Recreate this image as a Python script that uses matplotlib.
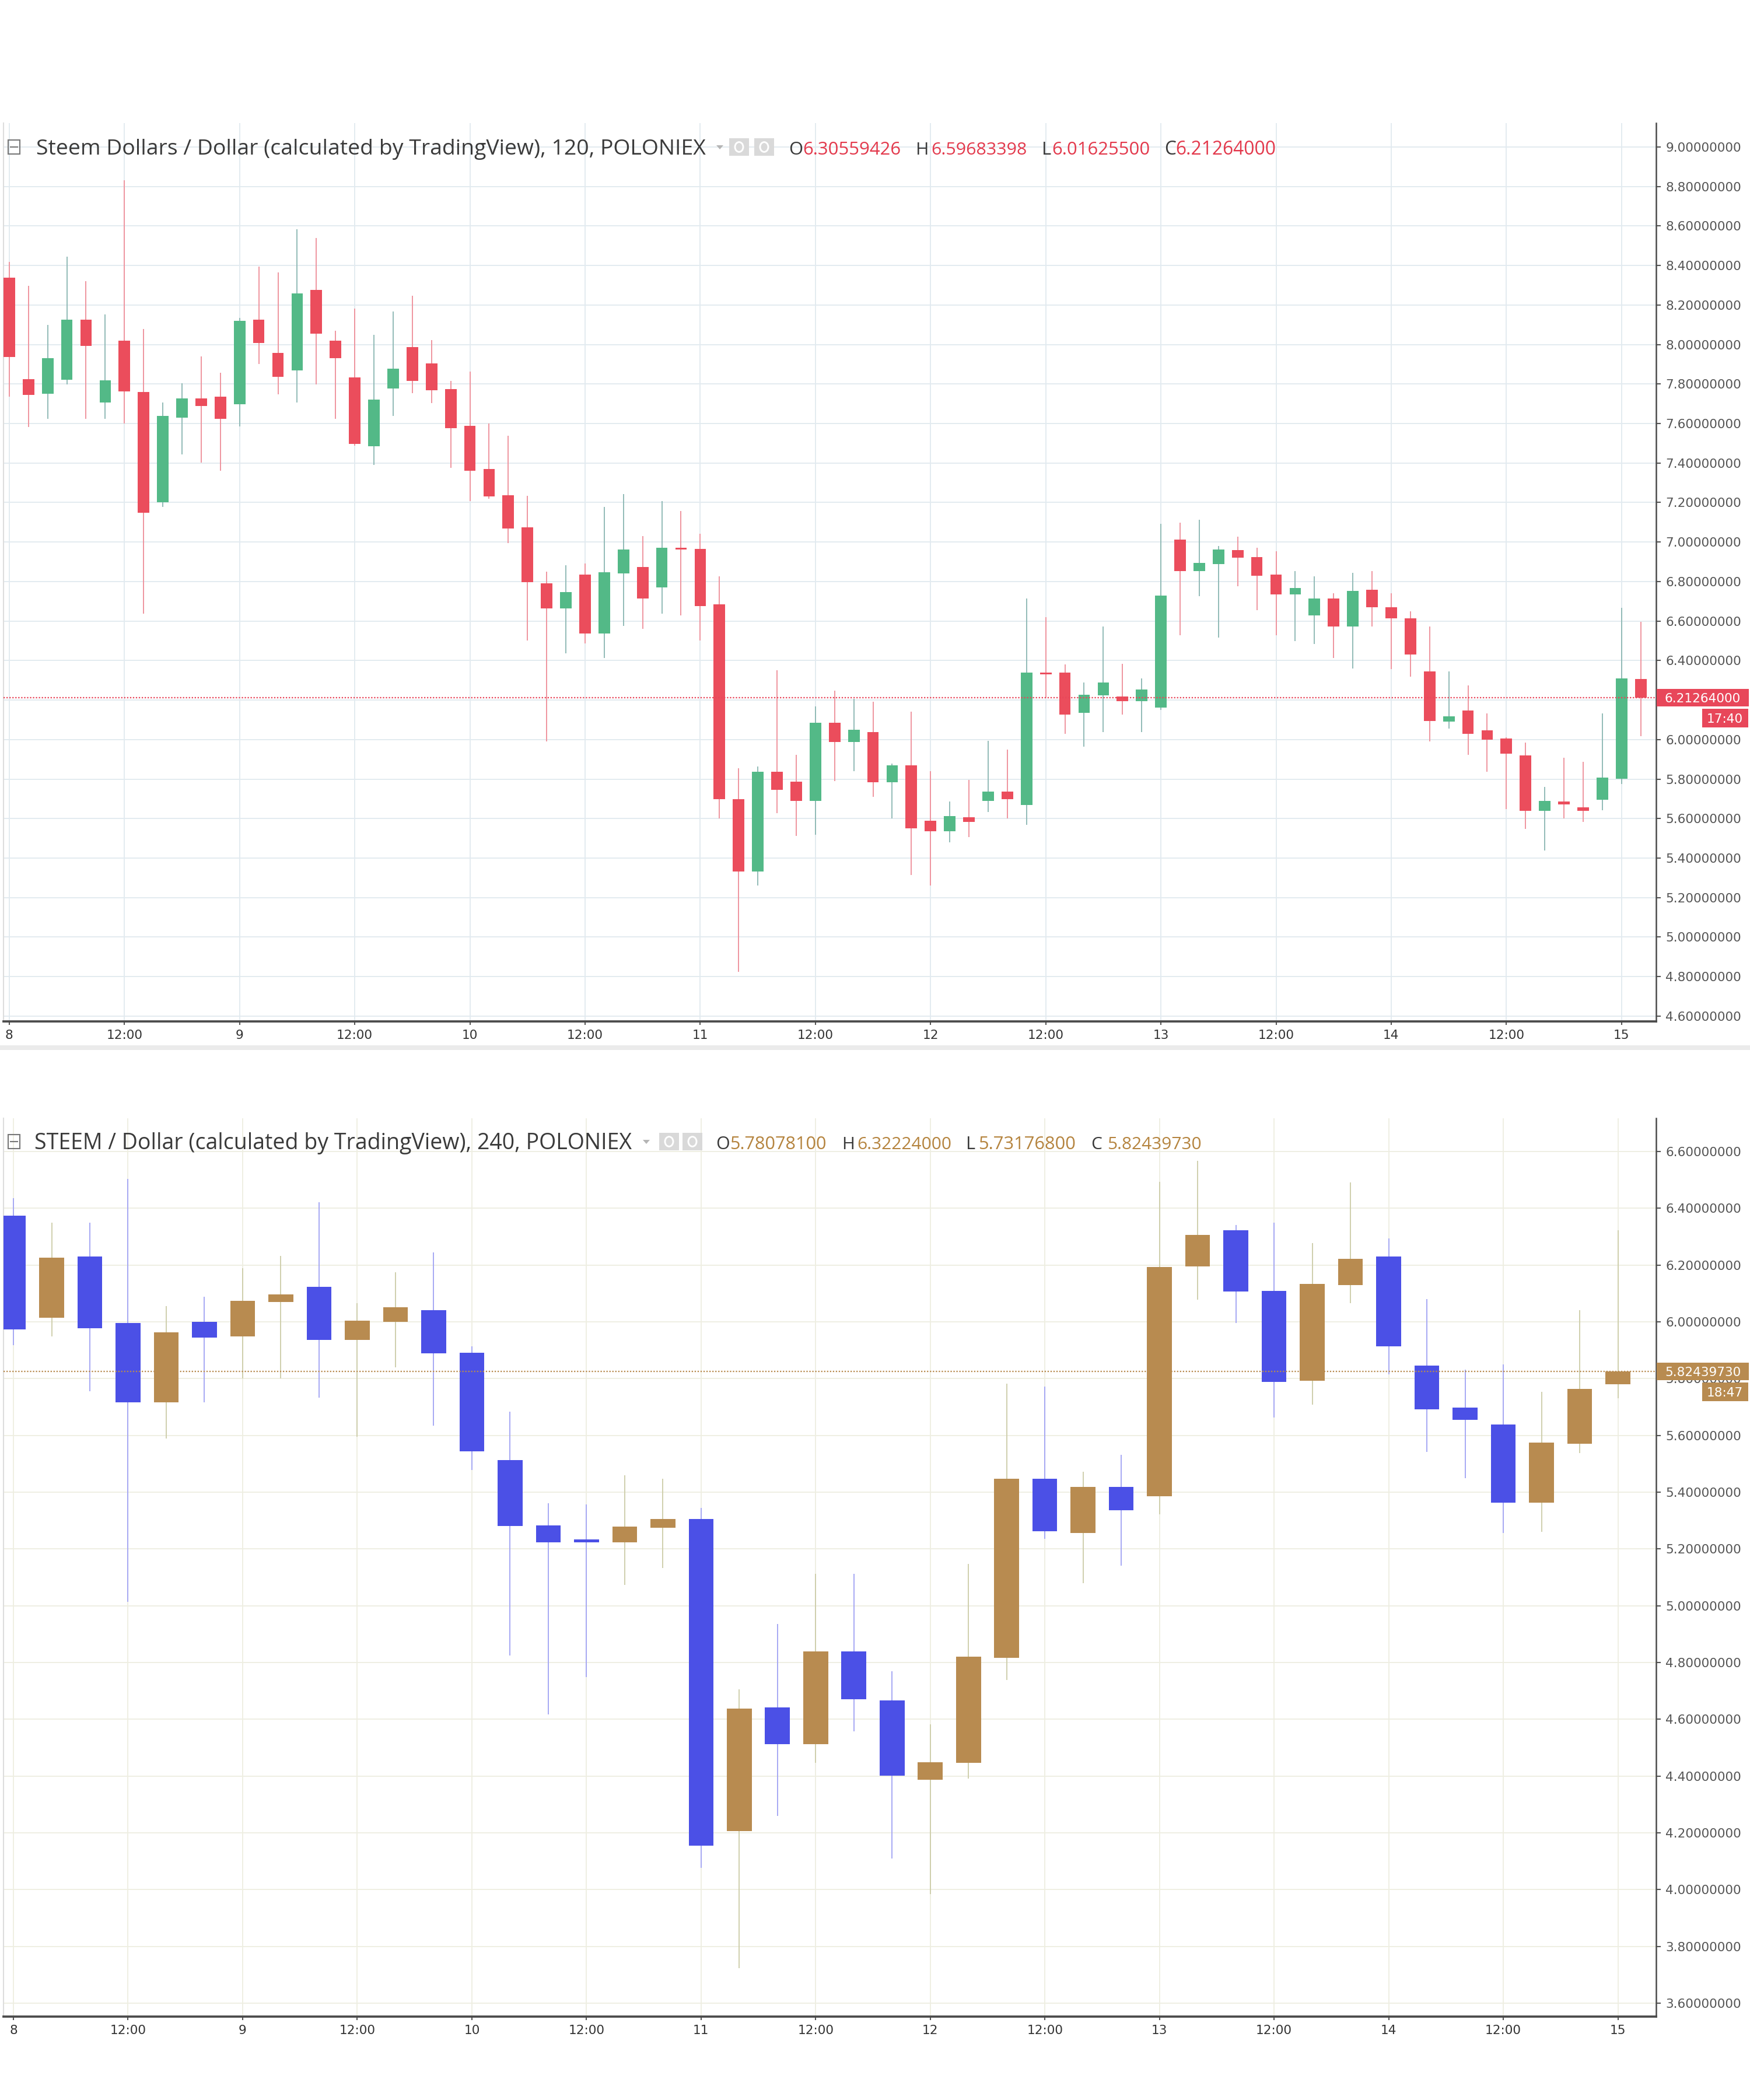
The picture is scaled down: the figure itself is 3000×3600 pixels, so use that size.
import matplotlib
matplotlib.use('Agg')
import matplotlib.pyplot as plt
import matplotlib.transforms as mtransforms
from matplotlib.patches import Rectangle, Polygon, Circle
from matplotlib.lines import Line2D
import numpy as np

# ---------------- data: Steem Dollars / Dollar, 120 min ----------------
sbd_open = [8.338, 7.825, 7.752, 7.823, 8.127, 7.707, 8.020, 7.761, 7.200, 7.631,
            7.727, 7.735, 7.699, 8.127, 7.958, 7.870, 8.276, 8.020, 7.834, 7.485,
            7.777, 7.986, 7.904, 7.775, 7.589, 7.369, 7.237, 7.073, 6.792, 6.665,
            6.834, 6.538, 6.842, 6.873, 6.769, 6.972, 6.966, 6.685, 5.699, 5.332,
            5.837, 5.786, 5.690, 6.085, 5.989, 6.037, 5.783, 5.868, 5.589, 5.535,
            5.606, 5.690, 5.738, 5.670, 6.338, 6.338, 6.135, 6.225, 6.217, 6.194,
            6.161, 7.011, 6.854, 6.887, 6.958, 6.924, 6.834, 6.735, 6.628, 6.713,
            6.572, 6.758, 6.670, 6.614, 6.344, 6.090, 6.146, 6.048, 6.006, 5.921,
            5.639, 5.687, 5.656, 5.696, 5.803, 6.30559426]
sbd_high = [8.417, 8.296, 8.099, 8.445, 8.321, 8.152, 8.831, 8.079, 7.707, 7.803,
            7.941, 7.856, 8.135, 8.394, 8.366, 8.583, 8.538, 8.070, 8.183, 8.048,
            8.166, 8.248, 8.023, 7.817, 7.862, 7.600, 7.538, 7.234, 6.851, 6.882,
            6.890, 7.177, 7.242, 7.031, 7.206, 7.158, 7.042, 6.825, 5.854, 5.865,
            6.352, 5.924, 6.169, 6.248, 6.206, 6.190, 5.879, 6.141, 5.839, 5.687,
            5.797, 5.994, 5.949, 6.713, 6.620, 6.380, 6.290, 6.572, 6.383, 6.310,
            7.093, 7.099, 7.113, 6.980, 7.028, 6.972, 6.952, 6.854, 6.825, 6.741,
            6.845, 6.854, 6.741, 6.648, 6.572, 6.344, 6.273, 6.132, 6.012, 5.986,
            5.761, 5.907, 5.887, 6.132, 6.668, 6.59683398]
sbd_low = [7.735, 7.583, 7.623, 7.797, 7.623, 7.623, 7.600, 6.637, 7.177, 7.445,
           7.403, 7.361, 7.586, 7.901, 7.749, 7.707, 7.797, 7.623, 7.487, 7.389,
           7.637, 7.755, 7.704, 7.375, 7.206, 7.220, 6.994, 6.501, 5.992, 6.437,
           6.487, 6.414, 6.575, 6.561, 6.637, 6.628, 6.501, 5.600, 4.825, 5.262,
           5.628, 5.513, 5.517, 5.789, 5.839, 5.710, 5.600, 5.315, 5.262, 5.479,
           5.507, 5.634, 5.600, 5.569, 6.211, 6.028, 5.963, 6.037, 6.127, 6.037,
           6.149, 6.527, 6.727, 6.515, 6.775, 6.654, 6.527, 6.499, 6.485, 6.414,
           6.361, 6.572, 6.358, 6.318, 5.992, 6.056, 5.924, 5.837, 5.648, 5.549,
           5.437, 5.600, 5.583, 5.642, 5.775, 6.01625500]
sbd_close = [7.938, 7.746, 7.930, 8.127, 7.992, 7.820, 7.763, 7.149, 7.639, 7.727,
             7.690, 7.623, 8.121, 8.008, 7.837, 8.259, 8.056, 7.930, 7.496, 7.721,
             7.879, 7.817, 7.769, 7.577, 7.361, 7.231, 7.068, 6.797, 6.665, 6.746,
             6.538, 6.846, 6.961, 6.715, 6.972, 6.961, 6.676, 5.699, 5.332, 5.837,
             5.746, 5.690, 6.085, 5.989, 6.051, 5.783, 5.868, 5.552, 5.535, 5.614,
             5.583, 5.738, 5.699, 6.338, 6.330, 6.127, 6.228, 6.290, 6.194, 6.254,
             6.730, 6.854, 6.893, 6.963, 6.921, 6.828, 6.735, 6.766, 6.713, 6.572,
             6.752, 6.670, 6.614, 6.431, 6.093, 6.118, 6.028, 6.000, 5.930, 5.639,
             5.690, 5.673, 5.639, 5.808, 6.310, 6.21264000]
sbd_xlabels = ['8', '12:00', '9', '12:00', '10', '12:00', '11', '12:00',
               '12', '12:00', '13', '12:00', '14', '12:00', '15']
sbd_header = ['Steem Dollars / Dollar (calculated by TradingView), 120, POLONIEX',
              '6.30559426', '6.59683398', '6.01625500', '6.21264000']

# ---------------- data: STEEM / Dollar, 240 min ----------------
steem_open = [6.374, 6.014, 6.230, 5.995, 5.717, 6.000, 5.949, 6.069, 6.124, 5.936,
              6.000, 6.042, 5.892, 5.513, 5.283, 5.234, 5.224, 5.275, 5.305, 4.207,
              4.641, 4.513, 4.839, 4.666, 4.387, 4.446, 4.816, 5.448, 5.256, 5.419,
              5.385, 6.195, 6.323, 6.108, 5.792, 6.130, 6.230, 5.845, 5.698, 5.639,
              5.364, 5.570, 5.78078100]
steem_high = [6.435, 6.350, 6.350, 6.503, 6.055, 6.089, 6.189, 6.232, 6.421, 6.065,
              6.175, 6.244, 5.914, 5.684, 5.360, 5.356, 5.460, 5.448, 5.344, 4.706,
              4.936, 5.112, 5.112, 4.769, 4.582, 5.148, 5.782, 5.772, 5.472, 5.531,
              6.494, 6.568, 6.340, 6.350, 6.277, 6.490, 6.293, 6.081, 5.831, 5.849,
              5.753, 6.042, 6.32224000]
steem_low = [5.918, 5.949, 5.755, 5.014, 5.590, 5.717, 5.800, 5.800, 5.733, 5.596,
             5.839, 5.635, 5.478, 4.824, 4.617, 4.749, 5.073, 5.132, 4.077, 3.723,
             4.260, 4.446, 4.558, 4.110, 3.985, 4.391, 4.739, 5.236, 5.079, 5.142,
             5.321, 6.079, 5.996, 5.662, 5.708, 6.065, 5.816, 5.541, 5.450, 5.256,
             5.260, 5.537, 5.73176800]
steem_close = [5.973, 6.226, 5.977, 5.717, 5.963, 5.945, 6.073, 6.097, 5.936, 6.004,
               6.051, 5.890, 5.543, 5.281, 5.224, 5.224, 5.279, 5.305, 4.156, 4.637,
               4.513, 4.839, 4.670, 4.401, 4.448, 4.820, 5.448, 5.262, 5.419, 5.336,
               6.193, 6.307, 6.106, 5.788, 6.134, 6.222, 5.914, 5.692, 5.655, 5.364,
               5.574, 5.763, 5.82439730]
steem_xlabels = ['8', '12:00', '9', '12:00', '10', '12:00', '11', '12:00',
                 '12', '12:00', '13', '12:00', '14', '12:00', '15']
steem_header = ['STEEM / Dollar (calculated by TradingView), 240, POLONIEX',
                '5.78078100', '6.32224000', '5.73176800', '5.82439730']

# ---------------- figure ----------------
W, H, DPI = 3000, 3600, 300
fig = plt.figure(figsize=(W / DPI, H / DPI), dpi=DPI)
fig.patch.set_facecolor('white')
renderer = fig.canvas.get_renderer()


def fx(px):
    return px / W


def fy(py):
    return 1 - py / H


def make_ax(top_px, bottom_px):
    return fig.add_axes([fx(6), fy(bottom_px), fx(2839) - fx(6), fy(top_px) - fy(bottom_px)])


def draw_candles(ax, o, h, l, c, up_col, dn_col, up_wick, dn_wick, width, min_h):
    o, h, l, c = (np.asarray(v, dtype=float) for v in (o, h, l, c))
    x = np.arange(len(o))
    up = c >= o
    body_col = [up_col if u else dn_col for u in up]
    wick_col = [up_wick if u else dn_wick for u in up]
    ax.vlines(x, l, h, colors=wick_col, lw=0.45, zorder=2)
    bottoms = np.minimum(o, c)
    heights = np.maximum(np.abs(c - o), min_h)
    ax.bar(x, heights, bottom=bottoms, width=width, color=body_col,
           linewidth=0, zorder=3)


def style_ax(ax, xlim, ylim, yticks, ylabels, xticks, xlabels, grid_col):
    ax.set_xlim(*xlim)
    ax.set_ylim(*ylim)
    ax.set_yticks(yticks)
    ax.set_yticklabels(ylabels)
    ax.set_xticks(xticks)
    ax.set_xticklabels(xlabels)
    ax.yaxis.tick_right()
    ax.tick_params(axis='y', right=True, left=False, length=1.9, width=0.5,
                   color='#555555', pad=2, labelsize=5.2, labelcolor='#555555')
    ax.tick_params(axis='x', length=1.5, width=0.5, color='#555555', pad=1.8,
                   labelsize=5.2, labelcolor='#333333')
    ax.grid(True, color=grid_col, lw=0.45)
    ax.set_axisbelow(True)
    ax.spines['top'].set_visible(False)
    ax.spines['left'].set_color('#dddddd')
    ax.spines['left'].set_linewidth(0.5)
    ax.spines['right'].set_color('#4a4a4a')
    ax.spines['right'].set_linewidth(0.6)
    ax.spines['bottom'].set_color('#4a4a4a')
    ax.spines['bottom'].set_linewidth(0.9)
    ax.set_facecolor('white')


def fit_text(x0, x1, ybase, s, color, family='Open Sans', size0=8):
    t = fig.text(fx(x0), fy(ybase), s, fontsize=size0, color=color, family=family,
                 ha='left', va='baseline')
    w = t.get_window_extent(renderer).width
    t.set_fontsize(size0 * (x1 - x0) / w)
    return t


def header(title, vals, ybase, title_x, letters_x, vals_x, val_col, tri_x, icons_x):
    ycen = ybase - 13
    # collapse icon
    fig.add_artist(Rectangle((fx(14), fy(ycen + 12)), fx(20), 24 / H, transform=fig.transFigure,
                             fill=False, edgecolor='#777777', lw=0.5))
    fig.add_artist(Line2D([fx(18), fx(30)], [fy(ycen), fy(ycen)], transform=fig.transFigure,
                          color='#777777', lw=0.5))
    fit_text(title_x[0], title_x[1], ybase, title, '#3a3a3a')
    # dropdown triangle
    fig.add_artist(Polygon([(fx(tri_x - 6), fy(ycen - 3)), (fx(tri_x + 6), fy(ycen - 3)),
                            (fx(tri_x), fy(ycen + 4))], closed=True, transform=fig.transFigure,
                           color='#b5b5b5', lw=0))
    # eye / gear boxes
    for ix in icons_x:
        fig.add_artist(Rectangle((fx(ix), fy(ycen + 15)), fx(34), 30 / H, transform=fig.transFigure,
                                 facecolor='#d9d9d9', edgecolor='none'))
        fig.add_artist(Circle((fx(ix + 17), fy(ycen)), 7 / W, transform=fig.transFigure,
                              fill=False, edgecolor='white', lw=0.7))
    size = None
    for letter, lx, val, (v0, v1) in zip('OHLC', letters_x, vals, vals_x):
        t = fit_text(v0, v1, ybase, val, val_col)
        size = t.get_fontsize()
        fig.text(fx(lx), fy(ybase), letter, fontsize=size, color='#3a3a3a',
                 family='Open Sans', ha='left', va='baseline')


def price_tag(ax, price, px_per_unit, col, price_txt, time_txt):
    tr = mtransforms.blended_transform_factory(fig.transFigure, ax.transData)
    hh = 15 / px_per_unit
    ax.add_artist(Rectangle((fx(2840), price - hh), fx(2998) - fx(2840), 2 * hh, transform=tr,
                            facecolor=col, edgecolor='none', clip_on=False, zorder=10))
    ax.text(fx(2919), price, price_txt, transform=tr, ha='center', va='center_baseline',
            fontsize=5.2, color='white', clip_on=False, zorder=11)
    t0 = price - 19 / px_per_unit
    t1 = price - 51 / px_per_unit
    ax.add_artist(Rectangle((fx(2918), t1), fx(2997) - fx(2918), t0 - t1, transform=tr,
                            facecolor=col, edgecolor='none', clip_on=False, zorder=10))
    ax.text(fx(2957), (t0 + t1) / 2, time_txt, transform=tr, ha='center', va='center_baseline',
            fontsize=5.2, color='white', clip_on=False, zorder=11)


# ---------------- top chart ----------------
ax1 = make_ax(211, 1751)
draw_candles(ax1, sbd_open, sbd_high, sbd_low, sbd_close,
             '#53b987', '#eb4d5c', '#8db8b4', '#ef919b', 0.6, 0.008)
yt1 = np.round(np.arange(4.6, 9.01, 0.2), 1)
yl1 = ['' if abs(v - 4.6) < 1e-9 else f'{v:.8f}' for v in yt1]
style_ax(ax1, (-0.30, 85.8), (4.573, 9.121), yt1, yl1,
         list(range(0, 85, 6)), sbd_xlabels, '#e2eaf0')
ax1.axhline(sbd_close[-1], color='#e8475a', lw=0.55, ls=(0, (1, 1.2)), zorder=4)
price_tag(ax1, sbd_close[-1], 338.6, '#e8475a', f'{sbd_close[-1]:.8f}', '17:40')
# partially hidden bottom label
t46 = fig.text(fx(2855), fy(1742), '4.60000000', fontsize=5.2, color='#555555',
               ha='left', va='center_baseline')
t46.set_clip_box(mtransforms.TransformedBbox(mtransforms.Bbox([[0, fy(1751)], [1, 1]]),
                                             fig.transFigure))
t46.set_clip_on(True)

header(sbd_header[0], sbd_header[1:], 265, (62, 1213),
       [1352, 1570, 1786, 1996], [(1376, 1545), (1596, 1760), (1803, 1972), (2015, 2187)],
       '#e3394c', 1234, [1250, 1293])

# thin gray strip under the top widget
fig.add_artist(Rectangle((0, fy(1800)), 1, 8 / H, transform=fig.transFigure,
                         facecolor='#ebebeb', edgecolor='none'))

# ---------------- bottom chart ----------------
ax2 = make_ax(1917, 3457)
draw_candles(ax2, steem_open, steem_high, steem_low, steem_close,
             '#b88b50', '#4b50e6', '#cdcdaa', '#a3a5f4', 0.65, 0.008)
yt2 = np.round(np.arange(3.6, 6.61, 0.2), 1)
yl2 = [f'{v:.8f}' for v in yt2]
style_ax(ax2, (-0.26, 43.0), (3.553, 6.717), yt2, yl2,
         list(range(0, 43, 3)), steem_xlabels, '#eeeee2')
ax2.axhline(steem_close[-1], color='#b88b50', lw=0.55, ls=(0, (1, 1.2)), zorder=4)
price_tag(ax2, steem_close[-1], 486.6, '#b88b50', f'{steem_close[-1]:.8f}', '18:47')

header(steem_header[0], steem_header[1:], 1970, (59, 1085),
       [1227, 1443, 1656, 1870], [(1251, 1417), (1469, 1631), (1677, 1844), (1898, 2060)],
       '#b5843f', 1108, [1130, 1170])

fig.savefig('out.png', dpi=DPI, facecolor='white')
